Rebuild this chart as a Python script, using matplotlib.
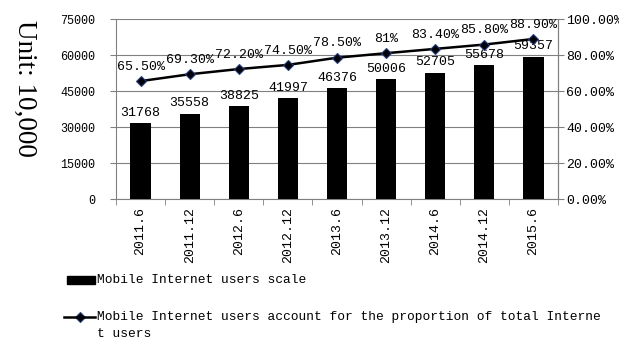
import matplotlib
matplotlib.use("Agg")
import matplotlib.pyplot as plt
from matplotlib.lines import Line2D
from matplotlib.patches import Rectangle
from matplotlib.ticker import FuncFormatter

categories = ["2011.6", "2011.12", "2012.6", "2012.12", "2013.6", "2013.12", "2014.6", "2014.12", "2015.6"]
users = [31768, 35558, 38825, 41997, 46376, 50006, 52705, 55678, 59357]
share = [65.5, 69.3, 72.2, 74.5, 78.5, 81.0, 83.4, 85.8, 88.9]
share_labels = ["65.50%", "69.30%", "72.20%", "74.50%", "78.50%", "81%", "83.40%", "85.80%", "88.90%"]
left_ticks = [0, 15000, 30000, 45000, 60000, 75000]
right_ticks = [0, 20, 40, 60, 80, 100]

mono = "Liberation Mono"
fig = plt.figure(figsize=(6.19, 3.40), dpi=100)
ax = fig.add_axes([116/619, 1 - 199/340, (558-116)/619, (199-19)/340])
x = list(range(len(categories)))
ax.bar(x, users, width=0.41, color="black", zorder=3)
ax.set_xlim(-0.5, len(categories) - 0.5)
ax.set_ylim(0, 75000)
ax.set_yticks(left_ticks)
ax.set_yticklabels([str(v) for v in left_ticks], fontfamily=mono, fontsize=8.5)
ax.set_xticks([i - 0.5 for i in x] + [len(x) - 0.5], minor=True)
ax.set_xticks(x)
ax.set_xticklabels(categories, rotation=90, fontfamily=mono, fontsize=9.5)
ax.tick_params(axis="x", which="major", length=0, pad=6)
ax.tick_params(axis="x", which="minor", length=4, color="#808080", direction="out")
ax.tick_params(axis="y", length=4, color="#808080", pad=11)
ax.grid(axis="y", color="#808080", linewidth=0.8, zorder=0)
for s in ["top"]:
    ax.spines[s].set_visible(False)
for s in ["left", "bottom", "right"]:
    ax.spines[s].set_color("#808080")
for xi, v in zip(x, users):
    ax.annotate(str(v), (xi, v), xytext=(0, 3), textcoords="offset points",
                ha="center", va="bottom", fontfamily=mono, fontsize=9.5, zorder=5)

ax2 = ax.twinx()
ax2.set_ylim(0, 100)
ax2.set_yticks(right_ticks)
ax2.yaxis.set_major_formatter(FuncFormatter(lambda v, p: f"{v:.2f}%"))
ax2.tick_params(axis="y", length=4, color="#808080", pad=2, labelsize=9.5)
for lab in ax2.get_yticklabels():
    lab.set_fontfamily(mono)
for s in ["top", "left", "bottom"]:
    ax2.spines[s].set_visible(False)
ax2.spines["right"].set_color("#808080")
ax2.plot(x, share, color="black", linewidth=1.8, marker="D", markersize=5.5,
         markerfacecolor="black", markeredgecolor="#1f3f8f", markeredgewidth=0.8, zorder=4)
for xi, v, lab in zip(x, share, share_labels):
    ax2.annotate(lab, (xi, v), xytext=(0, 6), textcoords="offset points",
                 ha="center", va="bottom", fontfamily=mono, fontsize=9.5, zorder=5)
ax2.set_zorder(ax.get_zorder() + 1)
ax2.patch.set_visible(False)

fig.text(25/619, 1 - 88/340, "Unit: 10,000", rotation=-90, ha="center", va="center",
         fontfamily="Liberation Serif", fontsize=19.5)

# legend
fig.patches.append(Rectangle((67/619, 1 - 284/340), 28/619, 8/340, transform=fig.transFigure,
                             color="black"))
fig.text(97/619, 1 - 280/340, "Mobile Internet users scale", ha="left", va="center",
         fontfamily=mono, fontsize=9.3)
fig.lines.append(Line2D([64/619, 95/619], [1 - 317/340, 1 - 317/340], transform=fig.transFigure,
                        color="black", linewidth=1.8, zorder=5))
fig.lines.append(Line2D([79.5/619], [1 - 317/340], transform=fig.transFigure,
                        color="black", marker="D", markersize=5.5, markeredgecolor="#1f3f8f",
                        markeredgewidth=0.8, linestyle="none"))
fig.text(97/619, 1 - 317/340, "Mobile Internet users account for the proportion of total Interne",
         ha="left", va="center", fontfamily=mono, fontsize=9.3)
fig.text(97/619, 1 - 334/340, "t users", ha="left", va="center", fontfamily=mono, fontsize=9.3)

fig.savefig("out.png", dpi=100)
